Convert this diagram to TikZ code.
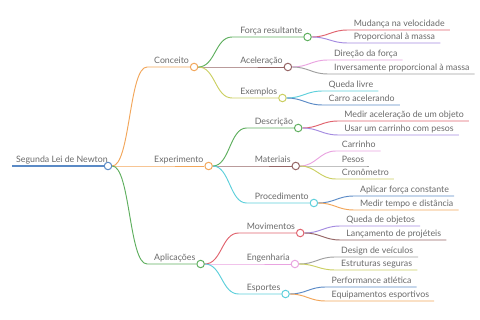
\documentclass[tikz,border=0pt]{standalone}
\usepackage{fontspec}
\setmainfont{Lato}
\usepackage{xcolor}
\usetikzlibrary{positioning,calc}

\definecolor{mmblue}{HTML}{5A8AC6}
\definecolor{mmorange}{HTML}{F2A65A}
\definecolor{mmgreen}{HTML}{5FAF5F}
\definecolor{mmbrown}{HTML}{956565}
\definecolor{mmlime}{HTML}{CBCF62}
\definecolor{mmred}{HTML}{E0636E}
\definecolor{mmpurple}{HTML}{A48BE0}
\definecolor{mmpink}{HTML}{E9A3E0}
\definecolor{mmgray}{HTML}{A0A0A0}
\definecolor{mmcyan}{HTML}{5ECFDB}
\definecolor{txtgray}{HTML}{6A6A6A}

\begin{document}
\begin{tikzpicture}[x=1pt, y=-1pt, font=\fontsize{8.8}{10}\selectfont,
    lbl/.style={anchor=base west, inner sep=1pt, text=txtgray},
    dot/.style={circle, draw=#1, fill=white, line width=1pt, minimum size=7.5pt, inner sep=0pt},
    edge/.style={draw=#1, line width=0.95pt}]
    \useasboundingbox (0,0) rectangle (480,320);

    % root
    \coordinate (sRoot) at (12,166);
    \node[dot=mmblue] (dRoot) at (108,166) {};
    \node[lbl] (tRoot) at (15,162.5) {Segunda Lei de Newton};
    \draw[edge=mmblue, line width=1.8pt] (sRoot) -- (dRoot.west);

    % first level
    \foreach \nm/\yy/\col/\txt in {Con/67/mmorange/Conceito, Exp/166/mmorange/Experimento, Apl/264/mmgreen/Aplicações}{
        \path (dRoot |- 0,\yy) ++(45,-3.5) node[lbl] (t\nm) {\txt};
        \path (t\nm.base east |- 0,\yy) ++(4,0) node[dot=\col] (d\nm) {};
        \path (dRoot |- 0,\yy) ++(39,0) coordinate (s\nm);
        \draw[edge=\col] (dRoot.east) .. controls +(18,0) and +(-18,0) .. (s\nm) -- (d\nm.west);
    }

    % second level
    \foreach \pa/\nm/\yy/\col/\txt in {Con/For/37/mmgreen/Força resultante, Con/Ace/67/mmbrown/Aceleração,
        Con/Exe/98/mmlime/Exemplos, Exp/Des/128/mmgreen/Descrição, Exp/Mat/166/mmbrown/Materiais,
        Exp/Pro/203/mmcyan/Procedimento, Apl/Mov/233/mmred/Movimentos, Apl/Eng/264/mmpink/Engenharia,
        Apl/Esp/294/mmcyan/Esportes}{
        \path (d\pa |- 0,\yy) ++(45,-3.5) node[lbl] (t\nm) {\txt};
        \path (t\nm.base east |- 0,\yy) ++(4,0) node[dot=\col] (d\nm) {};
        \path (d\pa |- 0,\yy) ++(38,0) coordinate (s\nm);
        \draw[edge=\col] (d\pa.east) .. controls +(17,0) and +(-17,0) .. (s\nm) -- (d\nm.west);
    }

    % leaves
    \foreach \pa/\yy/\col/\txt [count=\i] in {For/30/mmred/Mudança na velocidade, For/43/mmpurple/Proporcional à massa,
        Ace/60/mmpink/Direção da força, Ace/74/mmgray/Inversamente proporcional à massa,
        Exe/91/mmcyan/Queda livre, Exe/105/mmblue/Carro acelerando,
        Des/121/mmred/Medir aceleração de um objeto, Des/135/mmpurple/Usar um carrinho com pesos,
        Mat/151/mmpink/Carrinho, Mat/166/mmgray/Pesos, Mat/179/mmlime/Cronômetro,
        Pro/196/mmblue/Aplicar força constante, Pro/210/mmorange/Medir tempo e distância,
        Mov/226/mmpurple/Queda de objetos, Mov/240/mmbrown/Lançamento de projéteis,
        Eng/257/mmgray/Design de veículos, Eng/270/mmlime/Estruturas seguras,
        Esp/287/mmblue/Performance atlética, Esp/301/mmorange/Equipamentos esportivos}{
        \path (d\pa |- 0,\yy) ++(45,-3.5) node[lbl] (leaf\i) {\txt};
        \path (d\pa |- 0,\yy) ++(40,0) coordinate (lead\i);
        \draw[edge=\col] (d\pa.east) .. controls +(16,0) and +(-16,0) .. (lead\i) -- (lead\i -| leaf\i.east) -- ++(4,0);
    }
\end{tikzpicture}
\end{document}
